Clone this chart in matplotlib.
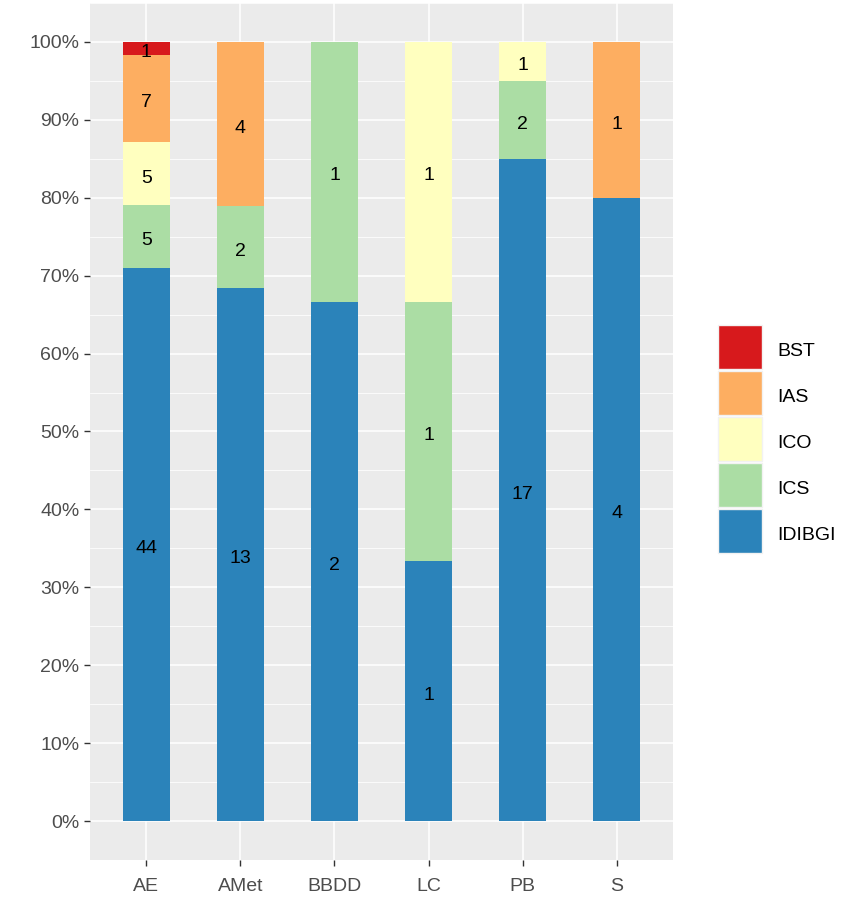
import matplotlib
matplotlib.use("Agg")
import matplotlib.pyplot as plt
from matplotlib.patches import Rectangle
from matplotlib.ticker import FuncFormatter, MultipleLocator

plt.rcParams['font.family'] = ['Liberation Sans', 'DejaVu Sans']

# categories and counts per group
groups = ["AE", "AMet", "BBDD", "LC", "PB", "S"]
legend_order = ["BST", "IAS", "ICO", "ICS", "IDIBGI"]
colors = {"BST": "#D7191C", "IAS": "#FDAE61", "ICO": "#FFFFBF",
          "ICS": "#ABDDA4", "IDIBGI": "#2B83BA"}

IDIBGI = [44, 13, 2, 1, 17, 4]
ICS = [5, 2, 1, 1, 2, 0]
ICO = [5, 0, 0, 1, 1, 0]
IAS = [7, 4, 0, 0, 0, 1]
BST = [1, 0, 0, 0, 0, 0]

counts = {"IDIBGI": IDIBGI, "ICS": ICS, "ICO": ICO, "IAS": IAS, "BST": BST}
stack = ["IDIBGI", "ICS", "ICO", "IAS", "BST"]  # bottom to top

W, H = 850, 897
fig = plt.figure(figsize=(W / 100, H / 100), dpi=100)
ax = fig.add_axes([90/W, 37/H, 583/W, 857/H])
ax.set_facecolor("#EBEBEB")

x = list(range(1, len(groups) + 1))
totals = [sum(counts[k][i] for k in stack) for i in range(len(groups))]
bottoms = [0.0] * len(groups)
for k in stack:
    fr = [counts[k][i] / totals[i] for i in range(len(groups))]
    ax.bar(x, fr, width=0.5, bottom=bottoms, color=colors[k], zorder=3)
    for i in range(len(groups)):
        if counts[k][i] > 0:
            ax.annotate(str(counts[k][i]), (x[i], bottoms[i] + fr[i] / 2),
                        xytext=(0, -3), textcoords="offset points",
                        ha="center", va="center", fontsize=14, color="black", zorder=4)
    bottoms = [bottoms[i] + fr[i] for i in range(len(groups))]

ax.set_xlim(0.4, 6.6)
ax.set_ylim(-0.05, 1.05)
ax.set_xticks(x)
ax.set_xticklabels(groups)
ax.yaxis.set_major_locator(MultipleLocator(0.1))
ax.yaxis.set_minor_locator(MultipleLocator(0.05))
ax.yaxis.set_major_formatter(FuncFormatter(lambda v, p: f"{v*100:.0f}%"))
ax.grid(which="major", color="white", linewidth=1.1, zorder=0)
ax.grid(which="minor", axis="y", color="white", linewidth=0.55, zorder=0)
ax.set_axisbelow(True)
for s in ax.spines.values():
    s.set_visible(False)
ax.tick_params(axis="both", which="major", colors="#333333", labelcolor="#4D4D4D",
               labelsize=14, length=4, width=1)
ax.tick_params(axis="x", which="major", pad=9)
ax.tick_params(axis="y", which="minor", length=0)

# legend drawn as keys in figure pixels
key_top = 325
for j, k in enumerate(legend_order):
    top = key_top + j * 46
    fig.patches.append(Rectangle((718 / W, 1 - (top + 44) / H), 44 / W, 44 / H,
                                 transform=fig.transFigure, facecolor=colors[k],
                                 edgecolor="#F2F2F2", linewidth=1))
    fig.text(777 / W, 1 - (top + 26) / H, k, ha="left", va="center",
             fontsize=14, color="black")

fig.savefig("out.png", dpi=100)
